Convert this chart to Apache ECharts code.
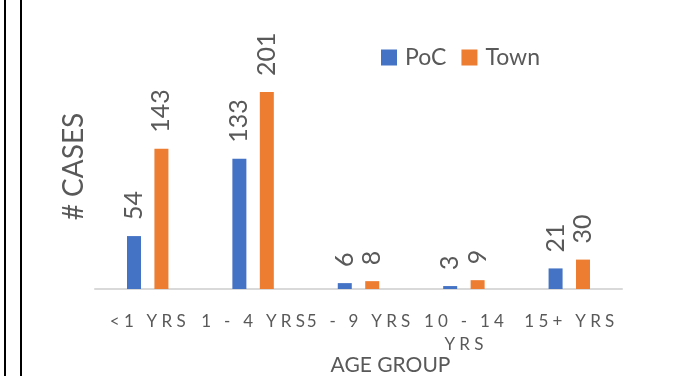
<!DOCTYPE html>
<html>
<head>
<meta charset="utf-8">
<style>
  html, body { margin: 0; padding: 0; background: #ffffff; }
  #chart { width: 681px; height: 376px; }
</style>
<script src="https://cdn.jsdelivr.net/npm/echarts@6/dist/echarts.min.js"></script>
</head>
<body>
<div id="chart"></div>
<script>
// Age groups and case counts
const categories = ['<1 YRS', '1 - 4 YRS', '5 - 9 YRS', '10 - 14\nYRS', '15+ YRS'];
const pocCases = [54, 133, 6, 3, 21];
const townCases = [143, 201, 8, 9, 30];
const seriesNames = ['PoC', 'Town'];

const FONT = 'Lato, "Open Sans", sans-serif';
const GREY = '#595959';

// Expanded character spacing for the category labels
const spaced = v => v.split('\n').map(line => Array.from(line).join('\u2005')).join('\n');

const barLabel = {
  show: true,
  position: 'top',
  rotate: 90,
  align: 'left',
  verticalAlign: 'middle',
  distance: 16,
  color: GREY,
  fontFamily: FONT,
  fontSize: 25
};

const chart = echarts.init(document.getElementById('chart'), null, { renderer: 'canvas' });
chart.setOption({
  animation: false,
  backgroundColor: '#ffffff',
  grid: { left: 95, right: 59, top: 44, bottom: 87, containLabel: false, outerBoundsMode: 'none' },
  legend: {
    data: seriesNames,
    left: 376,
    top: 41,
    icon: 'rect',
    itemWidth: 16,
    itemHeight: 16,
    itemGap: 15,
    textStyle: { color: GREY, fontFamily: FONT, fontSize: 23, padding: [0, 0, 0, 3] }
  },
  xAxis: {
    type: 'category',
    data: categories,
    axisLine: { lineStyle: { color: '#D9D9D9', width: 2 } },
    axisTick: { show: false },
    axisLabel: {
      interval: 0,
      margin: 21,
      color: GREY,
      fontFamily: FONT,
      fontSize: 17,
      lineHeight: 23,
      formatter: spaced
    },
    name: 'AGE GROUP',
    nameLocation: 'middle',
    nameGap: 66,
    nameMoveOverlap: false,
    nameTextStyle: { color: GREY, fontFamily: FONT, fontSize: 21, padding: [0, 0, 0, 64] }
  },
  yAxis: {
    type: 'value',
    min: 0,
    max: 250,
    axisLine: { show: false },
    axisTick: { show: false },
    axisLabel: { show: false },
    splitLine: { show: false },
    name: '# CASES',
    nameLocation: 'middle',
    nameRotate: 90,
    nameGap: 7,
    nameMoveOverlap: false,
    nameTextStyle: { color: GREY, fontFamily: FONT, fontSize: 28 }
  },
  series: [
    {
      name: seriesNames[0],
      type: 'bar',
      data: pocCases,
      barWidth: 14,
      barGap: '96%',
      itemStyle: { color: '#4472C4' },
      label: barLabel
    },
    {
      name: seriesNames[1],
      type: 'bar',
      data: townCases,
      barWidth: 14,
      barGap: '96%',
      itemStyle: { color: '#ED7D31' },
      label: barLabel
    }
  ],
  graphic: [
    { type: 'line', shape: { x1: 5, y1: 0, x2: 5, y2: 376 }, style: { stroke: '#000', lineWidth: 2 } },
    { type: 'line', shape: { x1: 21, y1: 0, x2: 21, y2: 376 }, style: { stroke: '#000', lineWidth: 2 } }
  ]
});
</script>
</body>
</html>
